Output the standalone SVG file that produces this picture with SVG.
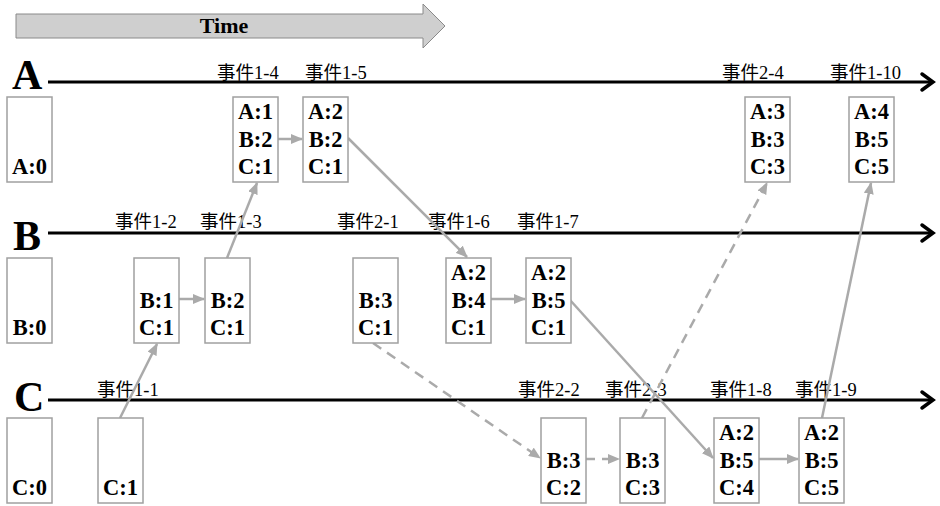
<svg xmlns="http://www.w3.org/2000/svg" width="940" height="506" viewBox="0 0 940 506">
<style>
.tl{stroke:#000;stroke-width:3;fill:none}
.chev{stroke:#000;stroke-width:3.5;fill:none;stroke-linecap:round;stroke-linejoin:miter}
.big{font-family:"Liberation Serif","Times New Roman",serif;font-weight:bold;font-size:42px;fill:#000}
.ev{font-family:"Liberation Serif","Noto Sans CJK SC",serif;font-size:18.5px;fill:#000}
.box rect{fill:#fff;stroke:#a0a0a0;stroke-width:1.5}
.box text{font-family:"Liberation Serif","Times New Roman",serif;font-weight:bold;font-size:22.5px;fill:#000;text-anchor:middle}
.cn{stroke:#aaaaaa;stroke-width:2.5;fill:none;marker-end:url(#ah)}
.dash{stroke-dasharray:10 7}
</style>
<defs>
<marker id="ah" markerUnits="userSpaceOnUse" markerWidth="12" markerHeight="10" refX="11" refY="5" orient="auto">
<path d="M0,0 L12,5 L0,10 Z" fill="#aaaaaa"/>
</marker>
</defs>
<rect width="940" height="506" fill="#fff"/>
<g id="time">
<path d="M16,14 L423,14 L423,4 L445,26 L423,48 L423,38 L16,38 Z" fill="#cfcfcf" stroke="#8a8a8a" stroke-width="1"/>
<text x="224" y="33" text-anchor="middle" style="font-family:'Liberation Serif',serif;font-weight:bold;font-size:22px">Time</text>
</g>
<g id="timelines">
<line class="tl" x1="48" y1="82" x2="933" y2="82"/>
<path class="chev" d="M922,74 L933,82 L922,90"/>
<line class="tl" x1="48" y1="233" x2="933" y2="233"/>
<path class="chev" d="M922,225 L933,233 L922,241"/>
<line class="tl" x1="48" y1="400" x2="933" y2="400"/>
<path class="chev" d="M922,392 L933,400 L922,408"/>
<text class="big" x="12" y="89">A</text>
<text class="big" x="13" y="250">B</text>
<text class="big" x="14" y="411">C</text>
</g>
<g id="labels">
<text class="ev" x="217" y="79">事件1-4</text>
<text class="ev" x="305" y="79">事件1-5</text>
<text class="ev" x="722" y="79">事件2-4</text>
<text class="ev" x="830" y="79">事件1-10</text>
<text class="ev" x="115" y="228">事件1-2</text>
<text class="ev" x="200" y="228">事件1-3</text>
<text class="ev" x="337" y="228">事件2-1</text>
<text class="ev" x="428" y="228">事件1-6</text>
<text class="ev" x="517" y="228">事件1-7</text>
<text class="ev" x="97" y="396">事件1-1</text>
<text class="ev" x="518" y="396">事件2-2</text>
<text class="ev" x="605" y="396">事件2-3</text>
<text class="ev" x="710" y="396">事件1-8</text>
<text class="ev" x="795" y="396">事件1-9</text>
</g>
<g id="connectors">
<line class="cn" x1="120" y1="418" x2="157" y2="344"/>
<line class="cn" x1="179" y1="299" x2="204" y2="299"/>
<line class="cn" x1="227" y1="258" x2="257" y2="183"/>
<line class="cn" x1="278" y1="139" x2="302" y2="139"/>
<line class="cn" x1="348" y1="138" x2="467" y2="257"/>
<line class="cn" x1="491" y1="299" x2="525" y2="299"/>
<line class="cn" x1="570" y1="300" x2="713" y2="458"/>
<line class="cn" x1="758" y1="459" x2="798" y2="459"/>
<line class="cn" x1="822" y1="418" x2="871" y2="183"/>
<line class="cn dash" x1="373" y1="343" x2="540" y2="458"/>
<line class="cn dash" x1="585" y1="459" x2="619" y2="459"/>
<line class="cn dash" x1="642" y1="418" x2="767" y2="183"/>
</g>
<g id="A0" class="box"><rect x="7" y="97" width="45" height="85"/><text x="29.5" y="174">A:0</text></g>
<g id="A14" class="box"><rect x="233" y="97" width="45" height="85"/><text x="255.5" y="119">A:1</text><text x="255.5" y="147">B:2</text><text x="255.5" y="174">C:1</text></g>
<g id="A15" class="box"><rect x="303" y="97" width="45" height="85"/><text x="325.5" y="119">A:2</text><text x="325.5" y="147">B:2</text><text x="325.5" y="174">C:1</text></g>
<g id="A24" class="box"><rect x="745" y="97" width="45" height="85"/><text x="767.5" y="119">A:3</text><text x="767.5" y="147">B:3</text><text x="767.5" y="174">C:3</text></g>
<g id="A110" class="box"><rect x="849" y="97" width="45" height="85"/><text x="871.5" y="119">A:4</text><text x="871.5" y="147">B:5</text><text x="871.5" y="174">C:5</text></g>
<g id="B0" class="box"><rect x="7" y="258" width="45" height="85"/><text x="29.5" y="335">B:0</text></g>
<g id="B12" class="box"><rect x="134" y="258" width="45" height="85"/><text x="156.5" y="308">B:1</text><text x="156.5" y="335">C:1</text></g>
<g id="B13" class="box"><rect x="205" y="258" width="45" height="85"/><text x="227.5" y="308">B:2</text><text x="227.5" y="335">C:1</text></g>
<g id="B21" class="box"><rect x="353" y="258" width="45" height="85"/><text x="375.5" y="308">B:3</text><text x="375.5" y="335">C:1</text></g>
<g id="B16" class="box"><rect x="446" y="258" width="45" height="85"/><text x="468.5" y="280">A:2</text><text x="468.5" y="308">B:4</text><text x="468.5" y="335">C:1</text></g>
<g id="B17" class="box"><rect x="526" y="258" width="45" height="85"/><text x="548.5" y="280">A:2</text><text x="548.5" y="308">B:5</text><text x="548.5" y="335">C:1</text></g>
<g id="C0" class="box"><rect x="7" y="418" width="45" height="85"/><text x="29.5" y="495">C:0</text></g>
<g id="C11" class="box"><rect x="98" y="418" width="45" height="85"/><text x="120.5" y="495">C:1</text></g>
<g id="C22" class="box"><rect x="541" y="418" width="45" height="85"/><text x="563.5" y="468">B:3</text><text x="563.5" y="495">C:2</text></g>
<g id="C23" class="box"><rect x="620" y="418" width="45" height="85"/><text x="642.5" y="468">B:3</text><text x="642.5" y="495">C:3</text></g>
<g id="C18" class="box"><rect x="714" y="418" width="45" height="85"/><text x="736.5" y="440">A:2</text><text x="736.5" y="468">B:5</text><text x="736.5" y="495">C:4</text></g>
<g id="C19" class="box"><rect x="799" y="418" width="45" height="85"/><text x="821.5" y="440">A:2</text><text x="821.5" y="468">B:5</text><text x="821.5" y="495">C:5</text></g>
</svg>
